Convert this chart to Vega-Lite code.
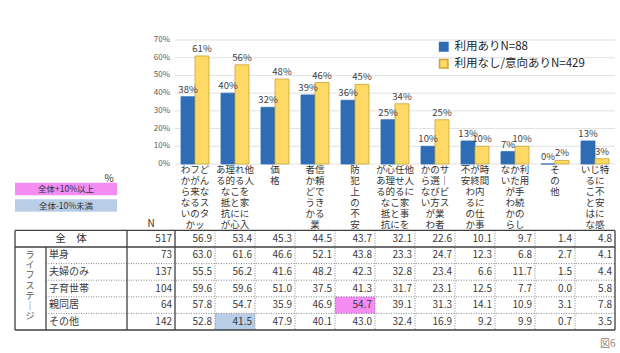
{
  "$schema": "https://vega.github.io/schema/vega-lite/v6.json",
  "padding": {"left": 14, "top": 36, "right": 5, "bottom": 6},
  "background": "white",
  "config": {"font": "Noto Sans CJK JP", "view": {"stroke": null}},
  "bounds": "flush",
  "spacing": 0,
  "title": {"text": "図6", "orient": "bottom", "anchor": "end", "fontSize": 10, "fontWeight": "normal", "color": "#8c8c8c", "offset": 8},
  "resolve": {"scale": {"x": "independent", "y": "independent", "color": "independent", "stroke": "independent"}},
  "datasets": {
    "bars": [
      {"cat": "どんなスタッフが来るのかわからない", "series": "利用ありN=88", "pct": 0.38},
      {"cat": "どんなスタッフが来るのかわからない", "series": "利用なし/意向ありN=429", "pct": 0.61},
      {"cat": "他人を家に入れることに心理的な抵抗がある", "series": "利用ありN=88", "pct": 0.40},
      {"cat": "他人を家に入れることに心理的な抵抗がある", "series": "利用なし/意向ありN=429", "pct": 0.56},
      {"cat": "価格", "series": "利用ありN=88", "pct": 0.32},
      {"cat": "価格", "series": "利用なし/意向ありN=429", "pct": 0.48},
      {"cat": "信頼できる業者かどうか", "series": "利用ありN=88", "pct": 0.39},
      {"cat": "信頼できる業者かどうか", "series": "利用なし/意向ありN=429", "pct": 0.46},
      {"cat": "防犯上の不安", "series": "利用ありN=88", "pct": 0.36},
      {"cat": "防犯上の不安", "series": "利用なし/意向ありN=429", "pct": 0.45},
      {"cat": "他人に家事を任せることに心理的な抵抗がある", "series": "利用ありN=88", "pct": 0.25},
      {"cat": "他人に家事を任せることに心理的な抵抗がある", "series": "利用なし/意向ありN=429", "pct": 0.34},
      {"cat": "サービス業者の選び方がわからない", "series": "利用ありN=88", "pct": 0.10},
      {"cat": "サービス業者の選び方がわからない", "series": "利用なし/意向ありN=429", "pct": 0.25},
      {"cat": "時間内に仕事が終わるのか不安", "series": "利用ありN=88", "pct": 0.13},
      {"cat": "時間内に仕事が終わるのか不安", "series": "利用なし/意向ありN=429", "pct": 0.10},
      {"cat": "利用手続のしかたがわからない", "series": "利用ありN=88", "pct": 0.07},
      {"cat": "利用手続のしかたがわからない", "series": "利用なし/意向ありN=429", "pct": 0.10},
      {"cat": "その他", "series": "利用ありN=88", "pct": 0.0},
      {"cat": "その他", "series": "利用なし/意向ありN=429", "pct": 0.02},
      {"cat": "特に不安に感じることはない", "series": "利用ありN=88", "pct": 0.13},
      {"cat": "特に不安に感じることはない", "series": "利用なし/意向ありN=429", "pct": 0.03}
    ],
    "ticks": [{"v": 0}, {"v": 0.1}, {"v": 0.2}, {"v": 0.3}, {"v": 0.4}, {"v": 0.5}, {"v": 0.6}, {"v": 0.7}],
    "table": [
      {"row": "全体", "N": 517, "どんなスタッフが来るのかわからない": 56.9, "他人を家に入れることに心理的な抵抗がある": 53.4, "価格": 45.3, "信頼できる業者かどうか": 44.5, "防犯上の不安": 43.7, "他人に家事を任せることに心理的な抵抗がある": 32.1, "サービス業者の選び方がわからない": 22.6, "時間内に仕事が終わるのか不安": 10.1, "利用手続のしかたがわからない": 9.7, "その他": 1.4, "特に不安に感じることはない": 4.8},
      {"row": "単身", "N": 73, "どんなスタッフが来るのかわからない": 63.0, "他人を家に入れることに心理的な抵抗がある": 61.6, "価格": 46.6, "信頼できる業者かどうか": 52.1, "防犯上の不安": 43.8, "他人に家事を任せることに心理的な抵抗がある": 23.3, "サービス業者の選び方がわからない": 24.7, "時間内に仕事が終わるのか不安": 12.3, "利用手続のしかたがわからない": 6.8, "その他": 2.7, "特に不安に感じることはない": 4.1},
      {"row": "夫婦のみ", "N": 137, "どんなスタッフが来るのかわからない": 55.5, "他人を家に入れることに心理的な抵抗がある": 56.2, "価格": 41.6, "信頼できる業者かどうか": 48.2, "防犯上の不安": 42.3, "他人に家事を任せることに心理的な抵抗がある": 32.8, "サービス業者の選び方がわからない": 23.4, "時間内に仕事が終わるのか不安": 6.6, "利用手続のしかたがわからない": 11.7, "その他": 1.5, "特に不安に感じることはない": 4.4},
      {"row": "子育世帯", "N": 104, "どんなスタッフが来るのかわからない": 59.6, "他人を家に入れることに心理的な抵抗がある": 59.6, "価格": 51.0, "信頼できる業者かどうか": 37.5, "防犯上の不安": 41.3, "他人に家事を任せることに心理的な抵抗がある": 31.7, "サービス業者の選び方がわからない": 23.1, "時間内に仕事が終わるのか不安": 12.5, "利用手続のしかたがわからない": 7.7, "その他": 0.0, "特に不安に感じることはない": 5.8},
      {"row": "親同居", "N": 64, "どんなスタッフが来るのかわからない": 57.8, "他人を家に入れることに心理的な抵抗がある": 54.7, "価格": 35.9, "信頼できる業者かどうか": 46.9, "防犯上の不安": 54.7, "他人に家事を任せることに心理的な抵抗がある": 39.1, "サービス業者の選び方がわからない": 31.3, "時間内に仕事が終わるのか不安": 14.1, "利用手続のしかたがわからない": 10.9, "その他": 3.1, "特に不安に感じることはない": 7.8},
      {"row": "その他", "N": 142, "どんなスタッフが来るのかわからない": 52.8, "他人を家に入れることに心理的な抵抗がある": 41.5, "価格": 47.9, "信頼できる業者かどうか": 40.1, "防犯上の不安": 43.0, "他人に家事を任せることに心理的な抵抗がある": 32.4, "サービス業者の選び方がわからない": 16.9, "時間内に仕事が終わるのか不安": 9.2, "利用手続のしかたがわからない": 9.9, "その他": 0.7, "特に不安に感じることはない": 3.5}
    ],
    "flags": [
      {"row": "親同居", "cat": "防犯上の不安", "flag": "全体+10%以上"},
      {"row": "その他", "cat": "他人を家に入れることに心理的な抵抗がある", "flag": "全体-10%未満"}
    ],
    "keys": [{"flag": "全体+10%以上"}, {"flag": "全体-10%未満"}],
    "heads": [{"h": "%"}, {"h": "N"}],
    "stage": [{"group": "ライフステージ"}]
  },
  "vconcat": [
    {
      "width": 600,
      "height": 124,
      "layer": [
        {
          "data": {"name": "ticks"},
          "mark": {"type": "rule", "color": "#d9d9d9", "strokeWidth": 0.8},
          "encoding": {
            "y": {"field": "v", "type": "quantitative", "scale": {"domain": [0, 0.7], "nice": false}, "axis": null},
            "x": {"datum": "どんなスタッフが来るのかわからない", "type": "nominal", "bandPosition": 0, "scale": {"domain": ["_a", "_b", "_c", "_N", "どんなスタッフが来るのかわからない", "他人を家に入れることに心理的な抵抗がある", "価格", "信頼できる業者かどうか", "防犯上の不安", "他人に家事を任せることに心理的な抵抗がある", "サービス業者の選び方がわからない", "時間内に仕事が終わるのか不安", "利用手続のしかたがわからない", "その他", "特に不安に感じることはない"], "paddingInner": 0, "paddingOuter": 0}},
            "x2": {"datum": "特に不安に感じることはない", "bandPosition": 1}
          }
        },
        {
          "data": {"name": "ticks"},
          "mark": {"type": "text", "align": "right", "baseline": "middle", "dx": -5, "fontSize": 8, "color": "#595959"},
          "encoding": {
            "y": {"field": "v", "type": "quantitative", "scale": {"domain": [0, 0.7], "nice": false}, "axis": null},
            "x": {"datum": "_N", "type": "nominal", "bandPosition": 1, "scale": {"domain": ["_a", "_b", "_c", "_N", "どんなスタッフが来るのかわからない", "他人を家に入れることに心理的な抵抗がある", "価格", "信頼できる業者かどうか", "防犯上の不安", "他人に家事を任せることに心理的な抵抗がある", "サービス業者の選び方がわからない", "時間内に仕事が終わるのか不安", "利用手続のしかたがわからない", "その他", "特に不安に感じることはない"], "paddingInner": 0, "paddingOuter": 0}},
            "text": {"field": "v", "type": "quantitative", "format": ".0%"}
          }
        },
        {
          "data": {"name": "bars"},
          "mark": {"type": "bar", "strokeWidth": 0.8},
          "encoding": {
            "x": {"field": "cat", "type": "nominal", "scale": {"domain": ["_a", "_b", "_c", "_N", "どんなスタッフが来るのかわからない", "他人を家に入れることに心理的な抵抗がある", "価格", "信頼できる業者かどうか", "防犯上の不安", "他人に家事を任せることに心理的な抵抗がある", "サービス業者の選び方がわからない", "時間内に仕事が終わるのか不安", "利用手続のしかたがわからない", "その他", "特に不安に感じることはない"], "paddingInner": 0, "paddingOuter": 0},
              "axis": {"title": null, "domain": false, "ticks": false, "tickSize": 0, "grid": false, "labelAngle": 0, "labelPadding": 0, "labelBaseline": "top", "labelAlign": "center", "labelFontSize": 9.5, "labelLineHeight": 11, "labelColor": "#333333", "labelLimit": 0, "labelOverlap": false, "labelBound": false, "labelFlush": false,
                "labelExpr": "datum.value == 'どんなスタッフが来るのかわからない' ? ['わフど','かがん','ら来な','なるス','いのタ','　かッ'] : datum.value == '他人を家に入れることに心理的な抵抗がある' ? ['あ理れ他','る的る人','　なこを','　抵と家','　抗にに','　が心入'] : datum.value == '価格' ? ['価','格'] : datum.value == '信頼できる業者かどうか' ? ['者信','か頼','どで','うき','かる','　業'] : datum.value == '防犯上の不安' ? ['防','犯','上','の','不','安'] : datum.value == '他人に家事を任せることに心理的な抵抗がある' ? ['が心任他','あ理せ人','る的るに','　なこ家','　抵と事','　抗にを'] : datum.value == 'サービス業者の選び方がわからない' ? ['かのサ','ら選｜','なびビ','い方ス','　が業','　わ者'] : datum.value == '時間内に仕事が終わるのか不安' ? ['不が時','安終間','　わ内','　るに','　の仕','　か事'] : datum.value == '利用手続のしかたがわからない' ? ['なか利','いた用','　が手','　わ続','　かの','　らし'] : datum.value == 'その他' ? ['そ','の','他'] : datum.value == '特に不安に感じることはない' ? ['いじ特','　るに','　こ不','　と安','　はに','　な感'] : ''"}},
            "xOffset": {"field": "series", "type": "nominal", "scale": {"domain": ["利用ありN=88", "利用なし/意向ありN=429"], "paddingInner": 0, "paddingOuter": 0.43}},
            "y": {"field": "pct", "type": "quantitative", "scale": {"domain": [0, 0.7], "nice": false}, "axis": null},
            "color": {"field": "series", "type": "nominal", "scale": {"domain": ["利用ありN=88", "利用なし/意向ありN=429"], "range": ["#2e6db5", "#ffd966"]},
              "legend": {"title": null, "orient": "none", "legendX": 423, "legendY": 1, "direction": "vertical", "symbolType": "square", "symbolSize": 70, "labelFontSize": 11.5, "labelColor": "#262626", "rowPadding": 2, "labelOffset": 5}},
            "stroke": {"field": "series", "type": "nominal", "scale": {"domain": ["利用ありN=88", "利用なし/意向ありN=429"], "range": ["#2e6db5", "#c9a435"]},
              "legend": {"title": null, "orient": "none", "legendX": 423, "legendY": 1, "direction": "vertical", "symbolType": "square", "symbolSize": 70, "labelFontSize": 11.5, "labelColor": "#262626", "rowPadding": 2, "labelOffset": 5}}
          }
        },
        {
          "data": {"name": "bars"},
          "mark": {"type": "text", "baseline": "bottom", "dy": -2, "fontSize": 9.5, "color": "#404040"},
          "encoding": {
            "x": {"field": "cat", "type": "nominal", "scale": {"domain": ["_a", "_b", "_c", "_N", "どんなスタッフが来るのかわからない", "他人を家に入れることに心理的な抵抗がある", "価格", "信頼できる業者かどうか", "防犯上の不安", "他人に家事を任せることに心理的な抵抗がある", "サービス業者の選び方がわからない", "時間内に仕事が終わるのか不安", "利用手続のしかたがわからない", "その他", "特に不安に感じることはない"], "paddingInner": 0, "paddingOuter": 0}},
            "xOffset": {"field": "series", "type": "nominal", "scale": {"domain": ["利用ありN=88", "利用なし/意向ありN=429"], "paddingInner": 0, "paddingOuter": 0.43}},
            "y": {"field": "pct", "type": "quantitative", "scale": {"domain": [0, 0.7], "nice": false}, "axis": null},
            "text": {"field": "pct", "type": "quantitative", "format": ".0%"}
          }
        }
      ]
    },
    {
      "width": 600,
      "height": 166,
      "layer": [
        {
          "data": {"name": "flags"},
          "mark": {"type": "bar"},
          "encoding": {
            "x": {"field": "cat", "type": "nominal", "scale": {"domain": ["_a", "_b", "_c", "_N", "どんなスタッフが来るのかわからない", "他人を家に入れることに心理的な抵抗がある", "価格", "信頼できる業者かどうか", "防犯上の不安", "他人に家事を任せることに心理的な抵抗がある", "サービス業者の選び方がわからない", "時間内に仕事が終わるのか不安", "利用手続のしかたがわからない", "その他", "特に不安に感じることはない"], "paddingInner": 0, "paddingOuter": 0}, "axis": null},
            "y": {"field": "row", "type": "nominal", "scale": {"domain": ["%", "全体+10%以上", "全体-10%未満", "N", "全体", "単身", "夫婦のみ", "子育世帯", "親同居", "その他"], "paddingInner": 0, "paddingOuter": 0}, "axis": null},
            "color": {"field": "flag", "type": "nominal", "scale": {"domain": ["全体+10%以上", "全体-10%未満"], "range": ["#f38df3", "#b8cde6"]}, "legend": null}
          }
        },
        {
          "data": {"name": "keys"},
          "mark": {"type": "bar", "height": {"band": 0.75}},
          "encoding": {
            "x": {"datum": "_a", "type": "nominal", "bandPosition": 0, "scale": {"domain": ["_a", "_b", "_c", "_N", "どんなスタッフが来るのかわからない", "他人を家に入れることに心理的な抵抗がある", "価格", "信頼できる業者かどうか", "防犯上の不安", "他人に家事を任せることに心理的な抵抗がある", "サービス業者の選び方がわからない", "時間内に仕事が終わるのか不安", "利用手続のしかたがわからない", "その他", "特に不安に感じることはない"], "paddingInner": 0, "paddingOuter": 0}, "axis": null},
            "x2": {"datum": "_c", "bandPosition": 0.55},
            "y": {"field": "flag", "type": "nominal", "scale": {"domain": ["%", "全体+10%以上", "全体-10%未満", "N", "全体", "単身", "夫婦のみ", "子育世帯", "親同居", "その他"], "paddingInner": 0, "paddingOuter": 0}, "axis": null},
            "color": {"field": "flag", "type": "nominal", "scale": {"domain": ["全体+10%以上", "全体-10%未満"], "range": ["#f38df3", "#b8cde6"]}, "legend": null}
          }
        },
        {
          "data": {"name": "keys"},
          "mark": {"type": "text", "fontSize": 8.5, "color": "#333333", "baseline": "middle"},
          "encoding": {
            "x": {"datum": "_b", "type": "nominal", "bandPosition": 0.275, "scale": {"domain": ["_a", "_b", "_c", "_N", "どんなスタッフが来るのかわからない", "他人を家に入れることに心理的な抵抗がある", "価格", "信頼できる業者かどうか", "防犯上の不安", "他人に家事を任せることに心理的な抵抗がある", "サービス業者の選び方がわからない", "時間内に仕事が終わるのか不安", "利用手続のしかたがわからない", "その他", "特に不安に感じることはない"], "paddingInner": 0, "paddingOuter": 0}, "axis": null},
            "y": {"field": "flag", "type": "nominal", "scale": {"domain": ["%", "全体+10%以上", "全体-10%未満", "N", "全体", "単身", "夫婦のみ", "子育世帯", "親同居", "その他"], "paddingInner": 0, "paddingOuter": 0}, "axis": null},
            "text": {"field": "flag", "type": "nominal"}
          }
        },
        {
          "data": {"name": "heads"},
          "transform": [{"filter": "datum.h == '%'"}],
          "mark": {"type": "text", "fontSize": 10, "color": "#333333", "baseline": "bottom", "dy": 3},
          "encoding": {
            "x": {"datum": "_c", "type": "nominal", "bandPosition": 0.35, "scale": {"domain": ["_a", "_b", "_c", "_N", "どんなスタッフが来るのかわからない", "他人を家に入れることに心理的な抵抗がある", "価格", "信頼できる業者かどうか", "防犯上の不安", "他人に家事を任せることに心理的な抵抗がある", "サービス業者の選び方がわからない", "時間内に仕事が終わるのか不安", "利用手続のしかたがわからない", "その他", "特に不安に感じることはない"], "paddingInner": 0, "paddingOuter": 0}, "axis": null},
            "y": {"field": "h", "type": "nominal", "bandPosition": 1, "scale": {"domain": ["%", "全体+10%以上", "全体-10%未満", "N", "全体", "単身", "夫婦のみ", "子育世帯", "親同居", "その他"], "paddingInner": 0, "paddingOuter": 0}, "axis": null},
            "text": {"field": "h", "type": "nominal"}
          }
        },
        {
          "data": {"name": "heads"},
          "transform": [{"filter": "datum.h == 'N'"}],
          "mark": {"type": "text", "fontSize": 10, "color": "#333333", "baseline": "bottom", "dy": -1},
          "encoding": {
            "x": {"datum": "_N", "type": "nominal", "bandPosition": 0.4, "scale": {"domain": ["_a", "_b", "_c", "_N", "どんなスタッフが来るのかわからない", "他人を家に入れることに心理的な抵抗がある", "価格", "信頼できる業者かどうか", "防犯上の不安", "他人に家事を任せることに心理的な抵抗がある", "サービス業者の選び方がわからない", "時間内に仕事が終わるのか不安", "利用手続のしかたがわからない", "その他", "特に不安に感じることはない"], "paddingInner": 0, "paddingOuter": 0}, "axis": null},
            "y": {"field": "h", "type": "nominal", "bandPosition": 1, "scale": {"domain": ["%", "全体+10%以上", "全体-10%未満", "N", "全体", "単身", "夫婦のみ", "子育世帯", "親同居", "その他"], "paddingInner": 0, "paddingOuter": 0}, "axis": null},
            "text": {"field": "h", "type": "nominal"}
          }
        },
        {
          "data": {"name": "table"},
          "transform": [{"fold": ["どんなスタッフが来るのかわからない", "他人を家に入れることに心理的な抵抗がある", "価格", "信頼できる業者かどうか", "防犯上の不安", "他人に家事を任せることに心理的な抵抗がある", "サービス業者の選び方がわからない", "時間内に仕事が終わるのか不安", "利用手続のしかたがわからない", "その他", "特に不安に感じることはない"], "as": ["cat", "value"]}],
          "mark": {"type": "text", "align": "right", "baseline": "middle", "dx": -3, "fontSize": 10, "color": "#3a3a3a"},
          "encoding": {
            "x": {"field": "cat", "type": "nominal", "bandPosition": 1, "scale": {"domain": ["_a", "_b", "_c", "_N", "どんなスタッフが来るのかわからない", "他人を家に入れることに心理的な抵抗がある", "価格", "信頼できる業者かどうか", "防犯上の不安", "他人に家事を任せることに心理的な抵抗がある", "サービス業者の選び方がわからない", "時間内に仕事が終わるのか不安", "利用手続のしかたがわからない", "その他", "特に不安に感じることはない"], "paddingInner": 0, "paddingOuter": 0}, "axis": null},
            "y": {"field": "row", "type": "nominal", "scale": {"domain": ["%", "全体+10%以上", "全体-10%未満", "N", "全体", "単身", "夫婦のみ", "子育世帯", "親同居", "その他"], "paddingInner": 0, "paddingOuter": 0}, "axis": null},
            "text": {"field": "value", "type": "quantitative", "format": ".1f"}
          }
        },
        {
          "data": {"name": "table"},
          "mark": {"type": "text", "align": "right", "baseline": "middle", "dx": -3, "fontSize": 10, "color": "#3a3a3a"},
          "encoding": {
            "x": {"datum": "_N", "type": "nominal", "bandPosition": 1, "scale": {"domain": ["_a", "_b", "_c", "_N", "どんなスタッフが来るのかわからない", "他人を家に入れることに心理的な抵抗がある", "価格", "信頼できる業者かどうか", "防犯上の不安", "他人に家事を任せることに心理的な抵抗がある", "サービス業者の選び方がわからない", "時間内に仕事が終わるのか不安", "利用手続のしかたがわからない", "その他", "特に不安に感じることはない"], "paddingInner": 0, "paddingOuter": 0}, "axis": null},
            "y": {"field": "row", "type": "nominal", "scale": {"domain": ["%", "全体+10%以上", "全体-10%未満", "N", "全体", "単身", "夫婦のみ", "子育世帯", "親同居", "その他"], "paddingInner": 0, "paddingOuter": 0}, "axis": null},
            "text": {"field": "N", "type": "quantitative"}
          }
        },
        {
          "data": {"name": "table"},
          "transform": [{"filter": "datum.row != '全体'"}],
          "mark": {"type": "text", "align": "left", "baseline": "middle", "fontSize": 10, "color": "#3a3a3a"},
          "encoding": {
            "x": {"datum": "_a", "type": "nominal", "bandPosition": 0.85, "scale": {"domain": ["_a", "_b", "_c", "_N", "どんなスタッフが来るのかわからない", "他人を家に入れることに心理的な抵抗がある", "価格", "信頼できる業者かどうか", "防犯上の不安", "他人に家事を任せることに心理的な抵抗がある", "サービス業者の選び方がわからない", "時間内に仕事が終わるのか不安", "利用手続のしかたがわからない", "その他", "特に不安に感じることはない"], "paddingInner": 0, "paddingOuter": 0}, "axis": null},
            "y": {"field": "row", "type": "nominal", "scale": {"domain": ["%", "全体+10%以上", "全体-10%未満", "N", "全体", "単身", "夫婦のみ", "子育世帯", "親同居", "その他"], "paddingInner": 0, "paddingOuter": 0}, "axis": null},
            "text": {"field": "row", "type": "nominal"}
          }
        },
        {
          "data": {"name": "table"},
          "transform": [{"filter": "datum.row == '全体'"}],
          "mark": {"type": "text", "align": "center", "baseline": "middle", "fontSize": 10.5, "color": "#333333", "text": "全　体"},
          "encoding": {
            "x": {"datum": "_b", "type": "nominal", "bandPosition": 0.4, "scale": {"domain": ["_a", "_b", "_c", "_N", "どんなスタッフが来るのかわからない", "他人を家に入れることに心理的な抵抗がある", "価格", "信頼できる業者かどうか", "防犯上の不安", "他人に家事を任せることに心理的な抵抗がある", "サービス業者の選び方がわからない", "時間内に仕事が終わるのか不安", "利用手続のしかたがわからない", "その他", "特に不安に感じることはない"], "paddingInner": 0, "paddingOuter": 0}, "axis": null},
            "y": {"field": "row", "type": "nominal", "scale": {"domain": ["%", "全体+10%以上", "全体-10%未満", "N", "全体", "単身", "夫婦のみ", "子育世帯", "親同居", "その他"], "paddingInner": 0, "paddingOuter": 0}, "axis": null}
          }
        },
        {
          "data": {"name": "stage"},
          "mark": {"type": "text", "align": "center", "baseline": "top", "dy": 4, "fontSize": 9, "lineHeight": 10.2, "color": "#555555"},
          "encoding": {
            "x": {"datum": "_a", "type": "nominal", "bandPosition": 0.375, "scale": {"domain": ["_a", "_b", "_c", "_N", "どんなスタッフが来るのかわからない", "他人を家に入れることに心理的な抵抗がある", "価格", "信頼できる業者かどうか", "防犯上の不安", "他人に家事を任せることに心理的な抵抗がある", "サービス業者の選び方がわからない", "時間内に仕事が終わるのか不安", "利用手続のしかたがわからない", "その他", "特に不安に感じることはない"], "paddingInner": 0, "paddingOuter": 0}, "axis": null},
            "y": {"datum": "単身", "type": "nominal", "bandPosition": 0, "scale": {"domain": ["%", "全体+10%以上", "全体-10%未満", "N", "全体", "単身", "夫婦のみ", "子育世帯", "親同居", "その他"], "paddingInner": 0, "paddingOuter": 0}, "axis": null},
            "text": {"value": ["ラ", "イ", "フ", "ス", "テ", "｜", "ジ"]}
          }
        },
        {
          "data": {"name": "table"},
          "transform": [{"filter": "datum.row == '全体' || datum.row == '単身'"}],
          "mark": {"type": "rule", "color": "#3f3f3f", "strokeWidth": 1.3},
          "encoding": {
            "y": {"field": "row", "type": "nominal", "bandPosition": 0, "scale": {"domain": ["%", "全体+10%以上", "全体-10%未満", "N", "全体", "単身", "夫婦のみ", "子育世帯", "親同居", "その他"], "paddingInner": 0, "paddingOuter": 0}, "axis": null},
            "x": {"datum": "_a", "type": "nominal", "bandPosition": 0, "scale": {"domain": ["_a", "_b", "_c", "_N", "どんなスタッフが来るのかわからない", "他人を家に入れることに心理的な抵抗がある", "価格", "信頼できる業者かどうか", "防犯上の不安", "他人に家事を任せることに心理的な抵抗がある", "サービス業者の選び方がわからない", "時間内に仕事が終わるのか不安", "利用手続のしかたがわからない", "その他", "特に不安に感じることはない"], "paddingInner": 0, "paddingOuter": 0}, "axis": null},
            "x2": {"datum": "特に不安に感じることはない", "bandPosition": 1}
          }
        },
        {
          "data": {"name": "table"},
          "transform": [{"filter": "datum.row == 'その他'"}],
          "mark": {"type": "rule", "color": "#3f3f3f", "strokeWidth": 1.3},
          "encoding": {
            "y": {"field": "row", "type": "nominal", "bandPosition": 1, "scale": {"domain": ["%", "全体+10%以上", "全体-10%未満", "N", "全体", "単身", "夫婦のみ", "子育世帯", "親同居", "その他"], "paddingInner": 0, "paddingOuter": 0}, "axis": null},
            "x": {"datum": "_a", "type": "nominal", "bandPosition": 0, "scale": {"domain": ["_a", "_b", "_c", "_N", "どんなスタッフが来るのかわからない", "他人を家に入れることに心理的な抵抗がある", "価格", "信頼できる業者かどうか", "防犯上の不安", "他人に家事を任せることに心理的な抵抗がある", "サービス業者の選び方がわからない", "時間内に仕事が終わるのか不安", "利用手続のしかたがわからない", "その他", "特に不安に感じることはない"], "paddingInner": 0, "paddingOuter": 0}, "axis": null},
            "x2": {"datum": "特に不安に感じることはない", "bandPosition": 1}
          }
        },
        {
          "data": {"name": "table"},
          "transform": [{"filter": "datum.row != '全体' && datum.row != '単身'"}],
          "mark": {"type": "rule", "color": "#6a6a6a", "strokeWidth": 0.8, "strokeDash": [1, 1.5]},
          "encoding": {
            "y": {"field": "row", "type": "nominal", "bandPosition": 0, "scale": {"domain": ["%", "全体+10%以上", "全体-10%未満", "N", "全体", "単身", "夫婦のみ", "子育世帯", "親同居", "その他"], "paddingInner": 0, "paddingOuter": 0}, "axis": null},
            "x": {"datum": "_a", "type": "nominal", "bandPosition": 0.775, "scale": {"domain": ["_a", "_b", "_c", "_N", "どんなスタッフが来るのかわからない", "他人を家に入れることに心理的な抵抗がある", "価格", "信頼できる業者かどうか", "防犯上の不安", "他人に家事を任せることに心理的な抵抗がある", "サービス業者の選び方がわからない", "時間内に仕事が終わるのか不安", "利用手続のしかたがわからない", "その他", "特に不安に感じることはない"], "paddingInner": 0, "paddingOuter": 0}, "axis": null},
            "x2": {"datum": "特に不安に感じることはない", "bandPosition": 1}
          }
        },
        {
          "data": {"name": "table"},
          "transform": [{"filter": "datum.row == '全体'"}, {"fold": ["どんなスタッフが来るのかわからない", "他人を家に入れることに心理的な抵抗がある", "価格", "信頼できる業者かどうか", "防犯上の不安", "他人に家事を任せることに心理的な抵抗がある", "サービス業者の選び方がわからない", "時間内に仕事が終わるのか不安", "利用手続のしかたがわからない", "その他"], "as": ["cat", "value"]}],
          "mark": {"type": "rule", "color": "#6a6a6a", "strokeWidth": 0.8, "strokeDash": [1, 1.5]},
          "encoding": {
            "x": {"field": "cat", "type": "nominal", "bandPosition": 1, "scale": {"domain": ["_a", "_b", "_c", "_N", "どんなスタッフが来るのかわからない", "他人を家に入れることに心理的な抵抗がある", "価格", "信頼できる業者かどうか", "防犯上の不安", "他人に家事を任せることに心理的な抵抗がある", "サービス業者の選び方がわからない", "時間内に仕事が終わるのか不安", "利用手続のしかたがわからない", "その他", "特に不安に感じることはない"], "paddingInner": 0, "paddingOuter": 0}, "axis": null},
            "y": {"datum": "全体", "type": "nominal", "bandPosition": 0, "scale": {"domain": ["%", "全体+10%以上", "全体-10%未満", "N", "全体", "単身", "夫婦のみ", "子育世帯", "親同居", "その他"], "paddingInner": 0, "paddingOuter": 0}, "axis": null},
            "y2": {"datum": "その他", "bandPosition": 1}
          }
        },
        {
          "data": {"name": "heads"},
          "transform": [{"filter": "datum.h == 'N'"}],
          "mark": {"type": "rule", "color": "#3f3f3f", "strokeWidth": 1.3},
          "encoding": {
            "x": {"datum": "_a", "type": "nominal", "bandPosition": 0, "scale": {"domain": ["_a", "_b", "_c", "_N", "どんなスタッフが来るのかわからない", "他人を家に入れることに心理的な抵抗がある", "価格", "信頼できる業者かどうか", "防犯上の不安", "他人に家事を任せることに心理的な抵抗がある", "サービス業者の選び方がわからない", "時間内に仕事が終わるのか不安", "利用手続のしかたがわからない", "その他", "特に不安に感じることはない"], "paddingInner": 0, "paddingOuter": 0}, "axis": null},
            "y": {"datum": "全体", "type": "nominal", "bandPosition": 0, "scale": {"domain": ["%", "全体+10%以上", "全体-10%未満", "N", "全体", "単身", "夫婦のみ", "子育世帯", "親同居", "その他"], "paddingInner": 0, "paddingOuter": 0}, "axis": null},
            "y2": {"datum": "その他", "bandPosition": 1}
          }
        },
        {
          "data": {"name": "heads"},
          "transform": [{"filter": "datum.h == 'N'"}],
          "mark": {"type": "rule", "color": "#3f3f3f", "strokeWidth": 1.3},
          "encoding": {
            "x": {"datum": "_c", "type": "nominal", "bandPosition": 0.8, "scale": {"domain": ["_a", "_b", "_c", "_N", "どんなスタッフが来るのかわからない", "他人を家に入れることに心理的な抵抗がある", "価格", "信頼できる業者かどうか", "防犯上の不安", "他人に家事を任せることに心理的な抵抗がある", "サービス業者の選び方がわからない", "時間内に仕事が終わるのか不安", "利用手続のしかたがわからない", "その他", "特に不安に感じることはない"], "paddingInner": 0, "paddingOuter": 0}, "axis": null},
            "y": {"datum": "全体", "type": "nominal", "bandPosition": 0, "scale": {"domain": ["%", "全体+10%以上", "全体-10%未満", "N", "全体", "単身", "夫婦のみ", "子育世帯", "親同居", "その他"], "paddingInner": 0, "paddingOuter": 0}, "axis": null},
            "y2": {"datum": "その他", "bandPosition": 1}
          }
        },
        {
          "data": {"name": "heads"},
          "transform": [{"filter": "datum.h == 'N'"}],
          "mark": {"type": "rule", "color": "#3f3f3f", "strokeWidth": 1.3},
          "encoding": {
            "x": {"datum": "_N", "type": "nominal", "bandPosition": 1, "scale": {"domain": ["_a", "_b", "_c", "_N", "どんなスタッフが来るのかわからない", "他人を家に入れることに心理的な抵抗がある", "価格", "信頼できる業者かどうか", "防犯上の不安", "他人に家事を任せることに心理的な抵抗がある", "サービス業者の選び方がわからない", "時間内に仕事が終わるのか不安", "利用手続のしかたがわからない", "その他", "特に不安に感じることはない"], "paddingInner": 0, "paddingOuter": 0}, "axis": null},
            "y": {"datum": "全体", "type": "nominal", "bandPosition": 0, "scale": {"domain": ["%", "全体+10%以上", "全体-10%未満", "N", "全体", "単身", "夫婦のみ", "子育世帯", "親同居", "その他"], "paddingInner": 0, "paddingOuter": 0}, "axis": null},
            "y2": {"datum": "その他", "bandPosition": 1}
          }
        },
        {
          "data": {"name": "heads"},
          "transform": [{"filter": "datum.h == 'N'"}],
          "mark": {"type": "rule", "color": "#3f3f3f", "strokeWidth": 1.3},
          "encoding": {
            "x": {"datum": "特に不安に感じることはない", "type": "nominal", "bandPosition": 1, "scale": {"domain": ["_a", "_b", "_c", "_N", "どんなスタッフが来るのかわからない", "他人を家に入れることに心理的な抵抗がある", "価格", "信頼できる業者かどうか", "防犯上の不安", "他人に家事を任せることに心理的な抵抗がある", "サービス業者の選び方がわからない", "時間内に仕事が終わるのか不安", "利用手続のしかたがわからない", "その他", "特に不安に感じることはない"], "paddingInner": 0, "paddingOuter": 0}, "axis": null},
            "y": {"datum": "全体", "type": "nominal", "bandPosition": 0, "scale": {"domain": ["%", "全体+10%以上", "全体-10%未満", "N", "全体", "単身", "夫婦のみ", "子育世帯", "親同居", "その他"], "paddingInner": 0, "paddingOuter": 0}, "axis": null},
            "y2": {"datum": "その他", "bandPosition": 1}
          }
        },
        {
          "data": {"name": "heads"},
          "transform": [{"filter": "datum.h == 'N'"}],
          "mark": {"type": "rule", "color": "#3f3f3f", "strokeWidth": 1.3},
          "encoding": {
            "x": {"datum": "_a", "type": "nominal", "bandPosition": 0.775, "scale": {"domain": ["_a", "_b", "_c", "_N", "どんなスタッフが来るのかわからない", "他人を家に入れることに心理的な抵抗がある", "価格", "信頼できる業者かどうか", "防犯上の不安", "他人に家事を任せることに心理的な抵抗がある", "サービス業者の選び方がわからない", "時間内に仕事が終わるのか不安", "利用手続のしかたがわからない", "その他", "特に不安に感じることはない"], "paddingInner": 0, "paddingOuter": 0}, "axis": null},
            "y": {"datum": "単身", "type": "nominal", "bandPosition": 0, "scale": {"domain": ["%", "全体+10%以上", "全体-10%未満", "N", "全体", "単身", "夫婦のみ", "子育世帯", "親同居", "その他"], "paddingInner": 0, "paddingOuter": 0}, "axis": null},
            "y2": {"datum": "その他", "bandPosition": 1}
          }
        }
      ]
    }
  ]
}
